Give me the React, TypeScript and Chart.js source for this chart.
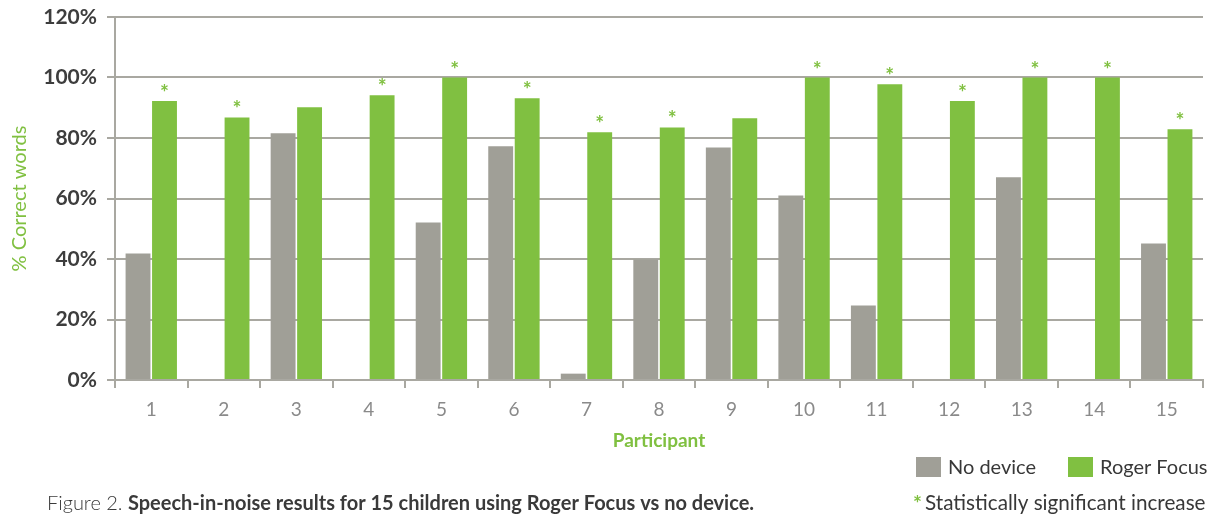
import React, { useEffect, useRef } from "react";
import { Chart, registerables } from "chart.js";

Chart.register(...registerables);

const participants = ["1", "2", "3", "4", "5", "6", "7", "8", "9", "10", "11", "12", "13", "14", "15"];
const noDevice = [41.8, 0, 81.6, 0, 52.1, 77.3, 2.1, 39.8, 76.9, 61.0, 24.6, 0, 67.0, 0, 45.1];
const rogerFocus = [92.2, 86.8, 90.2, 94.1, 100, 93.1, 81.9, 83.5, 86.5, 100, 97.8, 92.2, 100, 100, 82.9];
const significant = [true, true, false, true, true, true, true, true, false, true, true, true, true, true, true];
const seriesNames = ["No device", "Roger Focus"];
const yTitle = "% Correct words";
const xTitle = "Participant";
const captionLead = "Figure 2.";
const captionBody = "Speech-in-noise results for 15 children using Roger Focus vs no device.";
const sigNote = "Statistically significant increase";

const GRAY = "#a09f97";
const GREEN = "#80c041";
const GRID = "#a9a8a1";
const FONT = "Lato, 'Open Sans', sans-serif";

const overlayPlugin = {
  id: "overlay",
  afterDatasetsDraw(chart: any) {
    const ctx = chart.ctx;
    const meta = chart.getDatasetMeta(1);
    ctx.save();
    ctx.fillStyle = GREEN;
    ctx.font = `bold 21px ${FONT}`;
    ctx.textAlign = "center";
    ctx.textBaseline = "alphabetic";
    meta.data.forEach((bar: any, i: number) => {
      if (significant[i]) ctx.fillText("*", bar.x, bar.y - 1);
    });
    ctx.restore();
  },
  afterDraw(chart: any) {
    const ctx = chart.ctx;
    ctx.save();
    ctx.textBaseline = "alphabetic";
    ctx.textAlign = "left";
    // legend
    ctx.fillStyle = GRAY;
    ctx.fillRect(916, 457, 25, 20);
    ctx.fillStyle = GREEN;
    ctx.fillRect(1068, 457, 25, 20);
    ctx.fillStyle = "#383838";
    ctx.font = `20px ${FONT}`;
    ctx.fillText(seriesNames[0], 948, 474);
    ctx.fillText(seriesNames[1], 1100, 474);
    // significance note
    ctx.fillStyle = GREEN;
    ctx.font = `bold 21px ${FONT}`;
    ctx.fillText("*", 913, 511);
    ctx.fillStyle = "#383838";
    ctx.font = `20.7px ${FONT}`;
    ctx.fillText(sigNote, 925, 510);
    // caption
    ctx.fillStyle = "#3a3a3a";
    ctx.font = `300 20px ${FONT}`;
    ctx.fillText(captionLead, 47, 510);
    const w = ctx.measureText(captionLead + " ").width;
    ctx.font = `bold 20px ${FONT}`;
    ctx.fillText(captionBody, 47 + w, 510);
    ctx.restore();
  },
};

export default function App() {
  const ref = useRef<HTMLCanvasElement | null>(null);
  useEffect(() => {
    if (!ref.current) return;
    const chart = new Chart(ref.current, {
      type: "bar",
      data: {
        labels: participants,
        datasets: [
          {
            label: seriesNames[0],
            data: noDevice,
            backgroundColor: GRAY,
            borderWidth: 0,
            categoryPercentage: 0.73,
            barPercentage: 0.94,
          },
          {
            label: seriesNames[1],
            data: rogerFocus,
            backgroundColor: GREEN,
            borderWidth: 0,
            categoryPercentage: 0.73,
            barPercentage: 0.94,
          },
        ],
      },
      options: {
        responsive: false,
        animation: false,
        layout: { padding: { top: 17, right: 19, left: 0, bottom: 0 } },
        plugins: {
          legend: { display: false },
          tooltip: { enabled: false },
        },
        scales: {
          x: {
            afterFit: (s: any) => {
              s.height = 134;
            },
            grid: {
              offset: true,
              drawOnChartArea: false,
              drawTicks: true,
              tickLength: 8,
              color: GRID,
              lineWidth: 2,
            },
            border: { display: true, color: GRID, width: 2 },
            ticks: {
              color: "#8a8a8a",
              font: { family: FONT, size: 19 },
              padding: 10,
            },
            title: {
              display: true,
              text: xTitle,
              color: GREEN,
              font: { family: FONT, size: 19, weight: "bold" },
              padding: { top: 0, bottom: 62 },
            },
          },
          y: {
            min: 0,
            max: 120,
            afterFit: (s: any) => {
              s.width = 115;
              s.paddingTop = 0;
              s.paddingBottom = 0;
            },
            grid: {
              color: GRID,
              lineWidth: 2,
              drawTicks: true,
              tickLength: 8,
            },
            border: { display: true, color: GRID, width: 2 },
            ticks: {
              stepSize: 20,
              color: "#3d3d3d",
              font: { family: FONT, size: 21, weight: "bold" },
              padding: 10,
              callback: (v: any) => `${v}%`,
            },
            title: {
              display: true,
              text: yTitle,
              color: GREEN,
              font: { family: FONT, size: 20 },
              padding: { top: 8, bottom: 0 },
            },
          },
        },
      },
      plugins: [overlayPlugin],
    });
    return () => chart.destroy();
  }, []);
  return (
    <div style={{ position: "fixed", left: 0, top: 0, width: 1222, height: 514, background: "#fff" }}>
      <canvas ref={ref} width={1222} height={514} style={{ display: "block" }} />
    </div>
  );
}
